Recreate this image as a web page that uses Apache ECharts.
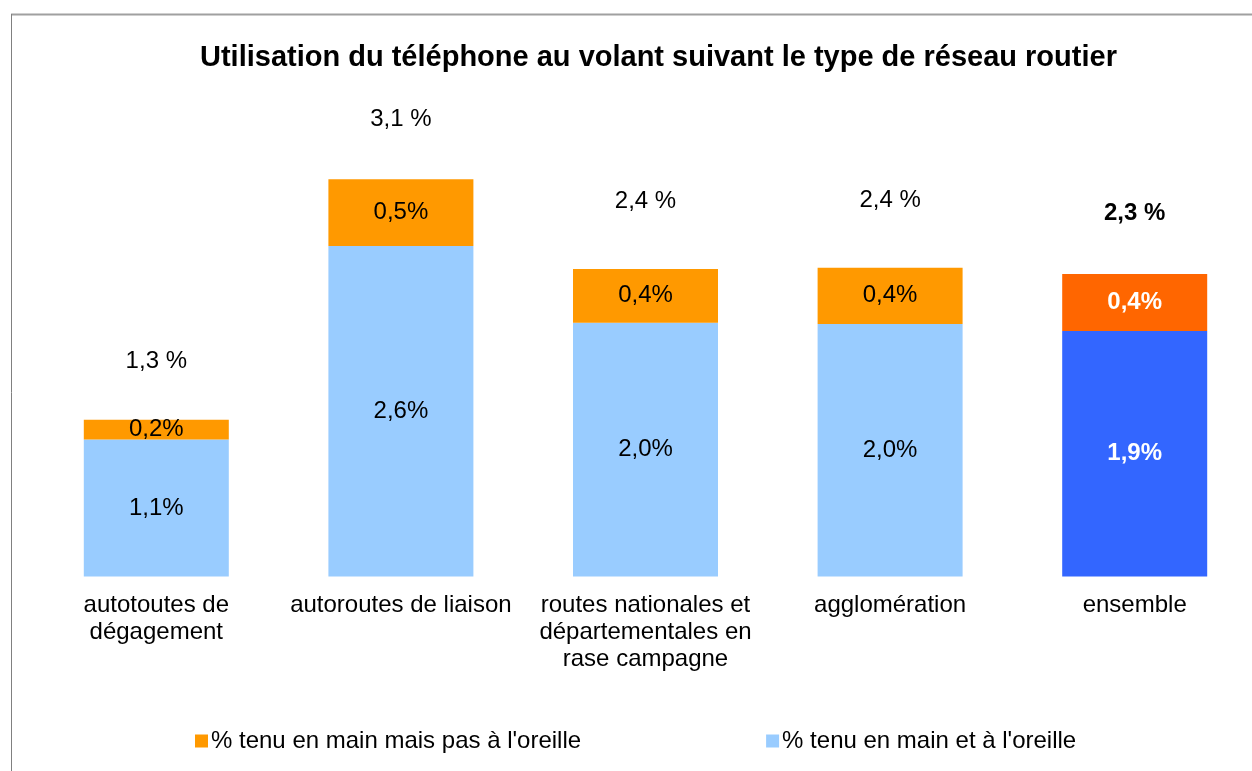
<!DOCTYPE html>
<html>
<head>
<meta charset="utf-8">
<script src="https://cdn.jsdelivr.net/npm/echarts@6/dist/echarts.min.js"></script>
<style>
  html, body { margin: 0; padding: 0; background: #fff; }
  #chart { width: 1252px; height: 771px; }
</style>
</head>
<body>
<div id="chart"></div>
<script>
// catégories (retours à la ligne comme sur l'original)
const categories = [
  'autotoutes de\ndégagement',
  'autoroutes de liaison',
  'routes nationales et\ndépartementales en\nrase campagne',
  'agglomération',
  'ensemble'
];
// % tenu en main et à l'oreille (bas de pile)
const aLOreille = [1.07, 2.58, 1.98, 1.97, 1.915];
// % tenu en main mais pas à l'oreille (haut de pile)
const pasALOreille = [0.154, 0.52, 0.42, 0.44, 0.445];
// totaux affichés au-dessus des barres
const totaux = [1.3, 3.1, 2.4, 2.4, 2.3];
const totalGap = [46, 48, 56, 55, 49];

const FONT = '"Liberation Sans", Arial, sans-serif';
const fmt = v => v.toFixed(1).replace('.', ',');

const chart = echarts.init(document.getElementById('chart'));

const lastIdx = categories.length - 1;

const option = {
  animation: false,
  textStyle: { fontFamily: FONT },
  title: {
    text: 'Utilisation du téléphone au volant suivant le type de réseau routier',
    left: 195,
    top: 38,
    textStyle: { fontFamily: FONT, fontSize: 29, fontWeight: 'bold', color: '#000' }
  },
  graphic: [
    { type: 'line', shape: { x1: 11, y1: 14.5, x2: 1252, y2: 14.5 }, style: { stroke: '#a0a0a0', lineWidth: 2 } },
    { type: 'line', shape: { x1: 11.5, y1: 14, x2: 11.5, y2: 771 }, style: { stroke: '#808080', lineWidth: 1 } }
  ],
  legend: {
    data: ["% tenu en main mais pas à l'oreille", "% tenu en main et à l'oreille"],
    left: 190,
    top: 724,
    itemWidth: 13,
    itemHeight: 13,
    itemGap: 185,
    icon: 'rect',
    textStyle: { fontFamily: FONT, fontSize: 24, color: '#000', padding: [0, 0, 0, -2] }
  },
  grid: { left: 34, right: -5, top: 128, bottom: 194.5, outerBoundsMode: 'none' },
  xAxis: {
    type: 'category',
    data: categories,
    axisLine: { show: false },
    axisTick: { show: false },
    axisLabel: {
      interval: 0,
      margin: 15,
      fontFamily: FONT,
      fontSize: 24,
      lineHeight: 27,
      color: '#000'
    }
  },
  yAxis: {
    type: 'value',
    min: 0,
    max: 3.5,
    show: false,
    splitLine: { show: false }
  },
  series: [
    {
      name: "% tenu en main et à l'oreille",
      type: 'bar',
      stack: 'total',
      barWidth: 145,
      itemStyle: { color: '#99ccff' },
      label: {
        show: true,
        position: 'inside',
        fontFamily: FONT,
        fontSize: 24,
        color: '#000',
        formatter: p => fmt(p.value) + '%'
      },
      data: aLOreille.map((v, i) => i === lastIdx
        ? { value: v, itemStyle: { color: '#3366ff' }, label: { color: '#fff', fontWeight: 'bold' } }
        : v)
    },
    {
      name: "% tenu en main mais pas à l'oreille",
      type: 'bar',
      stack: 'total',
      barWidth: 145,
      itemStyle: { color: '#ff9900' },
      label: {
        show: true,
        position: 'inside',
        fontFamily: FONT,
        fontSize: 24,
        color: '#000',
        formatter: p => fmt(p.value) + '%'
      },
      data: pasALOreille.map((v, i) => i === lastIdx
        ? { value: v, itemStyle: { color: '#ff6600' }, label: { color: '#fff', fontWeight: 'bold' } }
        : v)
    },
    {
      name: 'total',
      type: 'bar',
      stack: 'total',
      barWidth: 145,
      itemStyle: { color: 'transparent' },
      label: {
        show: true,
        position: 'top',
        fontFamily: FONT,
        fontSize: 24,
        color: '#000',
        formatter: p => fmt(totaux[p.dataIndex]) + ' %'
      },
      data: totaux.map((t, i) => ({
        value: 0,
        label: i === lastIdx
          ? { distance: totalGap[i], fontWeight: 'bold' }
          : { distance: totalGap[i] }
      }))
    }
  ]
};

chart.setOption(option);
</script>
</body>
</html>
